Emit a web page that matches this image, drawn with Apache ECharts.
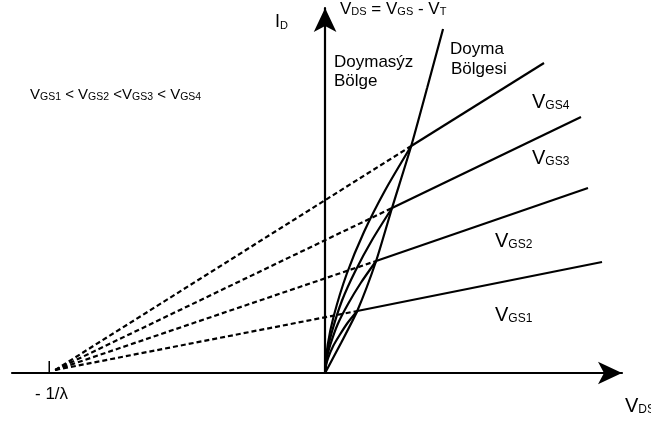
<!DOCTYPE html>
<html>
<head>
<meta charset="utf-8">
<script src="https://cdn.jsdelivr.net/npm/echarts@6/dist/echarts.min.js"></script>
<style>
html,body{margin:0;padding:0;background:#fff;}
#b{width:651px;height:425px;}
</style>
</head>
<body>
<div id="b"></div>
<script>
// kesisim noktasi (-1/lambda) ve egriler
var earlyX = -10.22;                 // -1/λ isareti
var focus = [-10, 0.3];              // kesikli cizgilerin bulustugu nokta
var gsNames = ['VGS1', 'VGS2', 'VGS3', 'VGS4'];
var satStart = [[1.19, 6.2], [1.89, 11.2], [2.48, 16.5], [3.19, 22.7]];
var satEnd = [[10.26, 11.1], [9.74, 18.5], [9.48, 25.6], [8.11, 31.0]];
var triode1 = [[0, 0], [0.036, 0.76], [0.12, 1.56], [0.30, 2.7], [0.54, 3.8], [0.83, 5.0], [1.19, 6.2]];
var triode2 = [[0, 0], [0.057, 1.4], [0.19, 2.8], [0.47, 4.9], [0.85, 6.9], [1.32, 9.0], [1.89, 11.2]];
var triode3 = [[0, 0], [0.074, 2.0], [0.25, 4.1], [0.62, 7.2], [1.12, 10.2], [1.74, 13.3], [2.48, 16.5]];
var triode4 = [[0, 0], [0.096, 2.8], [0.32, 5.7], [0.80, 9.9], [1.44, 14.1], [2.23, 18.3], [3.19, 22.7]];
var boundary = [[0, 0], [0.59, 3.0], [1.19, 6.2], [1.89, 11.2], [2.48, 16.5], [3.19, 22.7], [3.78, 28.5], [4.37, 34.4]];

var triodes = [triode1, triode2, triode3, triode4];

function run(){
    var myChart = echarts.init(document.getElementById('b'));
    var solid = {color: '#000', width: 2.2};
    var series = [];
    for (var i = 0; i < 4; i++) {
        series.push({
            name: gsNames[i] + ' doyma', type: 'line', symbol: 'none', silent: true,
            data: [satStart[i], satEnd[i]], lineStyle: solid
        });
        series.push({
            name: gsNames[i] + ' uzanti', type: 'line', symbol: 'none', silent: true,
            data: [focus, satStart[i]],
            lineStyle: {color: '#000', width: 2.2, type: [5, 3]}
        });
        series.push({
            name: gsNames[i] + ' omik', type: 'line', symbol: 'none', silent: true,
            smooth: 0.25,
            data: triodes[i], lineStyle: solid
        });
    }
    series.push({
        name: 'VDS = VGS - VT', type: 'line', symbol: 'none', silent: true,
        smooth: 0.2,
        data: boundary, lineStyle: solid
    });
    // -1/λ kucuk isaret
    series.push({
        name: 'tick', type: 'line', symbol: 'none', silent: true,
        data: [[earlyX, 0], [earlyX, 1.2]], lineStyle: {color: '#000', width: 1.5}
    });

    var F = '"Liberation Sans", Arial, sans-serif';
    function vlabel(txt, sub, x, y, big, small){
        return {
            type: 'text', x: x, y: y, silent: true,
            style: {
                text: '{m|' + txt + '}{s|' + sub + '}',
                verticalAlign: 'middle',
                rich: {
                    m: {fontSize: big, fontFamily: F, fill: '#000', lineHeight: big},
                    s: {fontSize: small, fontFamily: F, fill: '#000', lineHeight: small, verticalAlign: 'bottom'}
                }
            }
        };
    }
    function plain(txt, x, y, size){
        return {
            type: 'text', x: x, y: y, silent: true,
            style: {text: txt, font: size + 'px ' + F, fill: '#000', verticalAlign: 'middle'}
        };
    }

    option = {
        animation: false,
        backgroundColor: '#fff',
        grid: {left: 12, right: 29, top: 8, bottom: 52},
        xAxis: {
            type: 'value', min: -11.6, max: 11,
            axisLine: {onZero: true, lineStyle: {color: '#000', width: 2.2}, symbol: ['none', 'arrow'], symbolSize: [17, 24]},
            axisTick: {show: false}, axisLabel: {show: false}, splitLine: {show: false}
        },
        yAxis: {
            type: 'value', min: 0, max: 36.5,
            axisLine: {onZero: true, lineStyle: {color: '#000', width: 2.2}, symbol: ['none', 'arrow'], symbolSize: [17, 24]},
            axisTick: {show: false}, axisLabel: {show: false}, splitLine: {show: false}
        },
        series: series,
        graphic: [
            vlabel('I', 'D', 275, 22, 18, 11),
            {
                type: 'text', x: 340, y: 9, silent: true,
                style: {
                    text: '{m|V}{s|DS}{m| = V}{s|GS}{m| - V}{s|T}',
                    verticalAlign: 'middle',
                    rich: {
                        m: {fontSize: 17, fontFamily: F, fill: '#000', lineHeight: 17},
                        s: {fontSize: 11, fontFamily: F, fill: '#000', lineHeight: 11, verticalAlign: 'bottom'}
                    }
                }
            },
            plain('Doymasýz', 334, 62, 17),
            plain('Bölge', 334, 81, 17),
            plain('Doyma', 450, 49, 17),
            plain('Bölgesi', 451, 69, 17),
            vlabel('V', 'GS4', 532, 102, 20, 12),
            vlabel('V', 'GS3', 532, 158, 20, 12),
            vlabel('V', 'GS2', 495, 241, 20, 12),
            vlabel('V', 'GS1', 495, 315, 20, 12),
            vlabel('V', 'DS', 625, 406, 20, 12),
            plain('- 1/λ', 35, 394, 17),
            {
                type: 'text', x: 30, y: 95, silent: true,
                style: {
                    text: '{m|V}{s|GS1}{m| < V}{s|GS2}{m| <V}{s|GS3}{m| < V}{s|GS4}',
                    verticalAlign: 'middle',
                    rich: {
                        m: {fontSize: 15, fontFamily: F, fill: '#000', lineHeight: 15},
                        s: {fontSize: 10.5, fontFamily: F, fill: '#000', lineHeight: 14, verticalAlign: 'bottom'}
                    }
                }
            }
        ]
    };
    option && myChart.setOption(option);
}
run();
</script>
</body>
</html>
